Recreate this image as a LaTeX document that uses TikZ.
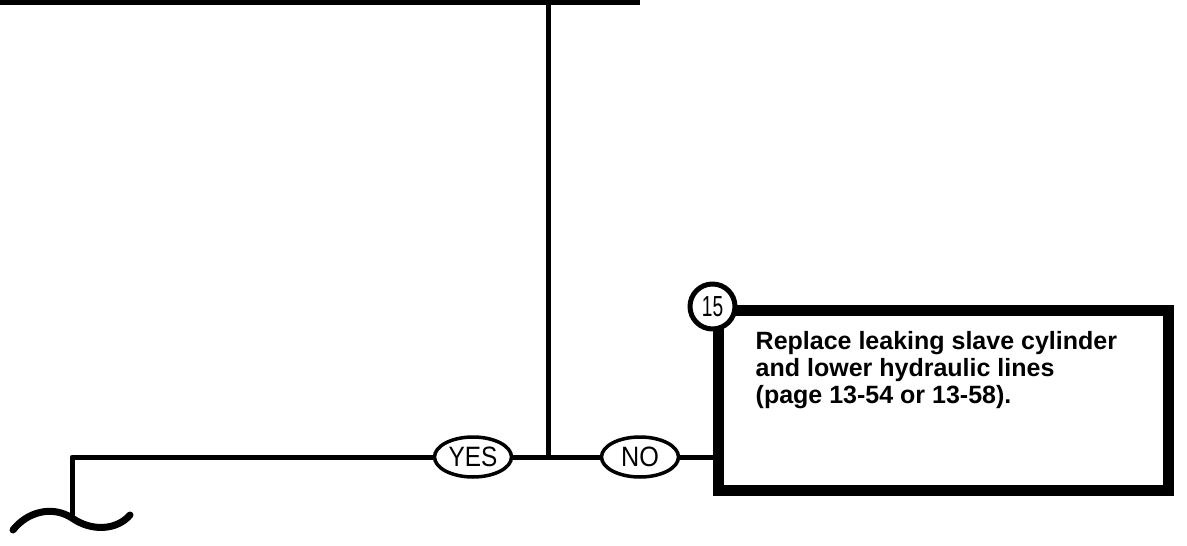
\documentclass[tikz,border=0pt]{standalone}
\usepackage{fontspec}
\setmainfont{Liberation Sans}
\usetikzlibrary{shapes.geometric}
\begin{document}
\begin{tikzpicture}[
  x=1pt, y=-1pt,
  line cap=round,
  line join=round,
  flowline/.style={line width=5pt},
  answer/.style={ellipse, draw, fill=white, line width=3.5pt,
    minimum width=77pt, minimum height=40pt, inner sep=0pt,
    font=\fontsize{28}{28}\selectfont},
  stepbox/.style={rectangle, draw, line width=11pt, line join=miter,
    minimum width=450pt, minimum height=180pt, inner sep=0pt},
  stepnum/.style={circle, draw, fill=white, line width=5pt,
    minimum size=45pt, inner sep=0pt,
    font=\fontsize{29}{29}\selectfont}
]
  \useasboundingbox (0,0) rectangle (1187,546);

  % Bottom edge of the box above (cut off)
  \coordinate (t0) at (0,2);
  \coordinate (t1) at (640,2);
  \draw[line width=5pt, line cap=butt] (t0)--(t1);

  % Step 15
  \node[stepbox] (box) at (943,400) {};
  \node[anchor=north west, align=left, inner sep=0pt,
    font=\fontsize{25}{27}\selectfont\bfseries]
    (txt) at ([xshift=43pt,yshift=-27pt]box.north west)
    {Replace leaking slave cylinder\\and lower hydraulic lines\\(page 13-54 or 13-58).};
  \node[stepnum] (n15) at ([yshift=-2pt]box.north west) {\scalebox{0.66}[1]{15}};

  % Answers
  \node[answer] (yes) at (473,457) {\scalebox{0.87}[1]{YES}};
  \node[answer] (no)  at (640,457) {\scalebox{0.9}[1]{NO}};

  % Lines
  \coordinate (top) at (548,0);
  \coordinate (j)   at (548,457);
  \coordinate (c1)  at (72,457);
  \coordinate (c2)  at (72,518);

  \draw[flowline] (top)--(j);
  \draw[flowline] (yes)--(j)--(no);
  \draw[flowline] (no)--(no -| box.west);
  \draw[flowline, line cap=butt] (yes)--(c1)--(c2);

  % Break mark
  \draw[line width=7pt]
    (13,530) .. controls (27,512) and (52,505) .. (c2)
    .. controls (92,532) and (117,530) .. (130,515);
\end{tikzpicture}
\end{document}
